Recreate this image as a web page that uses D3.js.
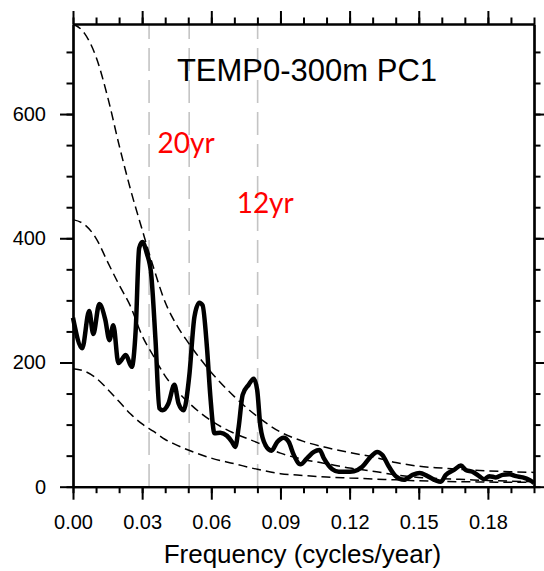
<!DOCTYPE html>
<html>
<head>
<meta charset="utf-8">
<script src="https://cdn.jsdelivr.net/npm/d3@7"></script>
<style>
  body { margin: 0; background: #fff; }
  svg { display: block; }
</style>
</head>
<body>
<svg></svg>
<script>
'use strict';

// spectrum (frequency in cycles/year, power)
var specFreq = [0.000, 0.004, 0.007, 0.0088, 0.0114, 0.014, 0.0158, 0.0175, 0.0197, 0.0229,
  0.0255, 0.0272, 0.0287, 0.0301, 0.032, 0.0339, 0.0358, 0.0375, 0.0388, 0.0414,
  0.044, 0.0458, 0.048, 0.0504, 0.0527, 0.0548, 0.0562, 0.0581, 0.0596, 0.0614,
  0.0639, 0.0668, 0.069, 0.0704, 0.0719, 0.0736, 0.0762, 0.0784, 0.0799, 0.0813,
  0.0835, 0.0861, 0.0886, 0.0914, 0.0936, 0.0958, 0.0987, 0.1016, 0.1045, 0.107,
  0.1088, 0.1125, 0.1153, 0.1183, 0.1219, 0.1255, 0.1291, 0.132, 0.1342, 0.1371,
  0.140, 0.1436, 0.1473, 0.1504, 0.1538, 0.1574, 0.1596, 0.1617, 0.1653, 0.1683,
  0.1704, 0.1733, 0.1762, 0.1784, 0.1806, 0.1835, 0.1864, 0.1893, 0.1922, 0.1951,
  0.198, 0.200];
var specPower = [272, 223, 283, 246, 294, 269, 236, 260, 199, 212,
  193, 252, 384, 394, 376, 343, 236, 126, 123, 134,
  164, 134, 123, 177, 274, 296, 292, 225, 145, 86,
  87, 82, 72, 64, 97, 148, 164, 174, 156, 97,
  67, 58, 72, 79, 72, 51, 36, 46, 56, 59,
  46, 28, 24, 24, 25, 32, 48, 56, 51, 32,
  17, 11, 19, 22, 17, 10, 8, 19, 27, 34,
  27, 24, 17, 12, 17, 15, 19, 20, 17, 15,
  11, 6];

// red noise curves (dashed)
var rnFreq = [0, 0.005, 0.01, 0.015, 0.02, 0.025, 0.03, 0.035, 0.04, 0.045,
  0.05, 0.06, 0.07, 0.08, 0.09, 0.10, 0.11, 0.12, 0.13, 0.14,
  0.15, 0.16, 0.17, 0.18, 0.19, 0.20];
var rnUpper = [745, 730, 692, 628, 550, 478, 414, 352, 297, 260,
  232, 184, 145, 113, 88, 73, 63, 55, 48, 39,
  33, 30, 27.5, 25.5, 24, 23];
var rnMiddle = [430, 422, 400, 362, 325, 290, 243, 210, 178, 155,
  136, 106, 86, 71, 54, 44, 37, 30, 25, 19,
  15, 13, 11.5, 10, 9, 8];
var rnLower = [190, 186, 175, 157, 137, 117, 101, 89, 76, 67,
  59, 46, 37, 28, 21, 18, 15.5, 14, 12.5, 11,
  9.5, 8.5, 8, 7.5, 7, 7];

// gray period markers and labels
var markerFreq = [0.033, 0.0504, 0.0801];
var periodLabels = ['20yr', '12yr'];
var periodLabelFreq = [0.0367, 0.071];
var periodLabelPower = [537, 441];

var xTicks = [0, 0.03, 0.06, 0.09, 0.12, 0.15, 0.18];
var yTicks = [0, 200, 400, 600];
var title = 'TEMP0-300m PC1';
var xTitle = 'Frequency (cycles/year)';

var width = 544;
var height = 571;
var margin = {top: 24, right: 10, bottom: 84.3, left: 73};
var w = width - margin.left - margin.right;
var h = height - margin.top - margin.bottom;

var svg = d3.select('svg')
  .attr('width', width)
  .attr('height', height);

var g = svg.append('g')
  .attr('transform', 'translate(' + margin.left + ',' + margin.top + ')');

var x = d3.scaleLinear().domain([0, 0.2]).range([0, w]);
var y = d3.scaleLinear().domain([0, 745]).range([h, 0]);

var font = '"Liberation Sans", Arial, Helvetica, sans-serif';

// period marker lines
g.selectAll('line.marker')
  .data(markerFreq)
  .enter().append('line')
  .attr('class', 'marker')
  .attr('x1', function(d) { return x(d); })
  .attr('x2', function(d) { return x(d); })
  .attr('y1', 0)
  .attr('y2', h)
  .attr('stroke', '#c4c4c4')
  .attr('stroke-width', 1.6)
  .attr('stroke-dasharray', '23,9')
  .attr('stroke-dashoffset', 8);

// red noise curves
var rnLine = function(vals) {
  return d3.line()
    .x(function(d, i) { return x(rnFreq[i]); })
    .y(function(d) { return y(d); })
    .curve(d3.curveMonotoneX)(vals);
};

g.selectAll('path.rn')
  .data([rnUpper, rnMiddle, rnLower])
  .enter().append('path')
  .attr('class', 'rn')
  .attr('d', rnLine)
  .attr('fill', 'none')
  .attr('stroke', '#000')
  .attr('stroke-width', 1.5)
  .attr('stroke-dasharray', '9,5');

// spectrum
var specLine = d3.line()
  .x(function(d, i) { return x(specFreq[i]); })
  .y(function(d) { return y(d); })
  .curve(d3.curveMonotoneX);

g.append('path')
  .attr('d', specLine(specPower))
  .attr('fill', 'none')
  .attr('stroke', '#000')
  .attr('stroke-width', 4.5)
  .attr('stroke-linejoin', 'round');

// axes: major ticks with labels, minor ticks without
function minor(axis, vals) {
  return axis.tickValues(vals).tickSize(6.5).tickSizeOuter(0).tickFormat('');
}

var xMinor = d3.range(0, 0.2001, 0.01);
var yMinor = d3.range(0, 746, 50);

g.append('g').attr('transform', 'translate(0,' + h + ')')
  .call(minor(d3.axisBottom(x), xMinor));
g.append('g').attr('transform', 'translate(0,' + h + ')')
  .call(d3.axisBottom(x).tickValues(xTicks).tickSize(13).tickSizeOuter(0)
    .tickPadding(15).tickFormat(d3.format('.2f')));

g.append('g').call(minor(d3.axisTop(x), xMinor));
g.append('g').call(d3.axisTop(x).tickValues(xTicks).tickSize(13).tickSizeOuter(0).tickFormat(''));

g.append('g').call(minor(d3.axisLeft(y), yMinor));
g.append('g')
  .call(d3.axisLeft(y).tickValues(yTicks).tickSize(13).tickSizeOuter(0)
    .tickPadding(14).tickFormat(d3.format('d')));

g.append('g').attr('transform', 'translate(' + w + ',0)')
  .call(minor(d3.axisRight(y), yMinor));
g.append('g').attr('transform', 'translate(' + w + ',0)')
  .call(d3.axisRight(y).tickValues(yTicks).tickSize(13).tickSizeOuter(0).tickFormat(''));

g.selectAll('.domain').attr('stroke', '#000').attr('stroke-width', 2.2);
g.selectAll('.tick line').attr('stroke', '#000').attr('stroke-width', 2);
g.selectAll('.tick text')
  .attr('font-family', font)
  .attr('font-size', 20)
  .attr('fill', '#000');

// title inside plot
g.append('text')
  .attr('x', x(0.1015))
  .attr('y', 56.7)
  .attr('text-anchor', 'middle')
  .attr('font-family', font)
  .attr('font-size', 31)
  .text(title);

// period labels
g.selectAll('text.period')
  .data(periodLabels)
  .enter().append('text')
  .attr('class', 'period')
  .attr('x', function(d, i) { return x(periodLabelFreq[i]); })
  .attr('y', function(d, i) { return y(periodLabelPower[i]); })
  .attr('font-family', 'Lato, "Open Sans", sans-serif')
  .attr('font-size', 28)
  .attr('fill', '#ff0000')
  .text(function(d) { return d; });

// x axis title
g.append('text')
  .attr('x', x(0.0995))
  .attr('y', h + 76.5)
  .attr('text-anchor', 'middle')
  .attr('font-family', font)
  .attr('font-size', 26)
  .text(xTitle);
</script>
</body>
</html>
